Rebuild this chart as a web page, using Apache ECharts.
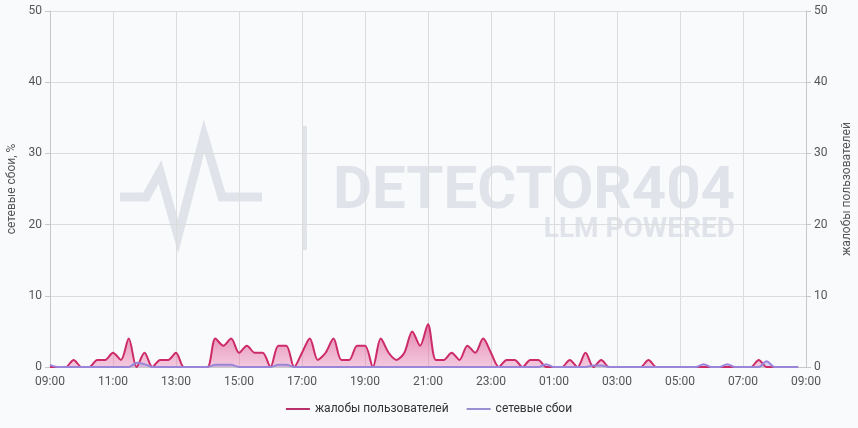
<!DOCTYPE html>
<html>
<head>
<meta charset="utf-8">
<script src="https://cdn.jsdelivr.net/npm/echarts@6/dist/echarts.min.js"></script>
<style>
html,body{margin:0;padding:0;background:#f9fafc;}
#chart{width:858px;height:428px;}
</style>
</head>
<body>
<div id="chart"></div>
<script>
// 15-minute slots starting 09:00
const times = [
 '09:00','09:15','09:30','09:45','10:00','10:15','10:30','10:45',
 '11:00','11:15','11:30','11:45','12:00','12:15','12:30','12:45',
 '13:00','13:15','13:30','13:45','14:00','14:15','14:30','14:45',
 '15:00','15:15','15:30','15:45','16:00','16:15','16:30','16:45',
 '17:00','17:15','17:30','17:45','18:00','18:15','18:30','18:45',
 '19:00','19:15','19:30','19:45','20:00','20:15','20:30','20:45',
 '21:00','21:15','21:30','21:45','22:00','22:15','22:30','22:45',
 '23:00','23:15','23:30','23:45','00:00','00:15','00:30','00:45',
 '01:00','01:15','01:30','01:45','02:00','02:15','02:30','02:45',
 '03:00','03:15','03:30','03:45','04:00','04:15','04:30','04:45',
 '05:00','05:15','05:30','05:45','06:00','06:15','06:30','06:45',
 '07:00','07:15','07:30','07:45','08:00','08:15','08:30','08:45'
];
const complaints = [
 0,0,0,1,0,0,1,1,
 2,1,4,0,2,0,1,1,
 2,0,0,0,0,4,3,4,
 2,3,2,2,0,3,3,0,
 2,4,1,2,4,1,1,3,
 3,0,4,2,1,2,5,3,
 6,1,1,2,1,3,2,4,
 2,0,1,1,0,1,1,0,
 0,0,1,0,2,0,1,0,
 0,0,0,0,1,0,0,0,
 0,0,0,0,0,0,0,0,
 0,0,1,0,0,0,0,0
];
const networkFailures = [
 0.3,0,0,0,0,0,0,0,
 0,0,0,0.6,0.4,0,0,0,
 0,0,0,0,0,0.3,0.3,0.3,
 0,0,0,0,0,0.3,0.3,0,
 0,0,0,0,0,0,0,0,
 0,0,0,0,0,0,0,0,
 0,0,0,0,0,0,0,0,
 0,0,0,0,0,0,0,0.4,
 0,0,0,0,0,0.2,0.2,0,
 0,0,0,0,0,0,0,0,
 0,0,0,0.4,0,0,0.4,0,
 0,0,0,0.8,0,0,0,0
];
const xTickStep = 120; // minutes
const yMax = 50, yStep = 10;

function toMin(t){
  let [h, m] = t.split(':').map(Number);
  let v = h*60 + m - 9*60;
  if (v < 0) v += 1440;
  return v;
}
function fmt(m){
  const total = (9*60 + m) % 1440;
  const h = Math.floor(total/60), mm = total % 60;
  return String(h).padStart(2,'0') + ':' + String(mm).padStart(2,'0');
}
const pinkData = times.map((t,i)=>[toMin(t), complaints[i]]);
const purpleData = times.map((t,i)=>[toMin(t), networkFailures[i]]);

const chart = echarts.init(document.getElementById('chart'), null, {renderer:'canvas'});
const wm = '#e0e3e9';
chart.setOption({
  backgroundColor:'#f9fafc',
  animation:false,
  textStyle:{fontFamily:'Roboto, "Noto Sans", sans-serif'},
  graphic:[
    {type:'polyline', z:-10, silent:true,
     shape:{points:[[120,197],[146,197],[160,172],[178,236],[204,136],[222,197],[262,197]]},
     style:{stroke:wm, lineWidth:9, fill:null, lineJoin:'miter'}},
    {type:'rect', z:-10, silent:true, shape:{x:302,y:126,width:5,height:124}, style:{fill:wm}},
    {type:'text', z:-10, silent:true, right:123, top:163,
     style:{text:'DETECTOR404', fill:wm, font:'bold 60px Roboto, sans-serif'}},
    {type:'text', z:-10, silent:true, right:123, top:216,
     style:{text:'LLM POWERED', fill:wm, font:'bold 28px Roboto, sans-serif'}}
  ],
  grid:{left:50, right:52, top:11, bottom:61, outerBoundsMode:'none', containLabel:false},
  legend:{
    bottom:8, left:'center', itemWidth:24, itemHeight:8, itemGap:18,
    icon:'path://M0,3 L24,3 L24,5 L0,5 Z',
    textStyle:{color:'#333', fontSize:12},
    data:[
      {name:'жалобы пользователей', itemStyle:{color:'#b8306a'}},
      {name:'сетевые сбои', itemStyle:{color:'#9a8fd0'}}
    ]
  },
  xAxis:{
    type:'value', min:0, max:1440, interval:xTickStep,
    axisLine:{show:true, lineStyle:{color:'#c8c8c8'}},
    axisTick:{show:false},
    axisLabel:{color:'#555', fontSize:12, margin:9, formatter:v=>fmt(v)},
    splitLine:{show:true, lineStyle:{color:'#dcdcdc'}}
  },
  yAxis:[
    {type:'value', min:0, max:yMax, interval:yStep, position:'left',
     name:'сетевые сбои, %', nameLocation:'middle', nameGap:31,
     nameTextStyle:{color:'#555', fontSize:12},
     axisLine:{show:true, lineStyle:{color:'#c8c8c8'}},
     axisTick:{show:true, length:5, lineStyle:{color:'#c8c8c8'}},
     axisLabel:{color:'#555', fontSize:12, margin:8},
     splitLine:{show:true, lineStyle:{color:'#dcdcdc'}}},
    {type:'value', min:0, max:yMax, interval:yStep, position:'right',
     name:'жалобы пользователей', nameLocation:'middle', nameGap:35,
     nameTextStyle:{color:'#555', fontSize:12},
     axisLine:{show:true, lineStyle:{color:'#c8c8c8'}},
     axisTick:{show:true, length:5, lineStyle:{color:'#c8c8c8'}},
     axisLabel:{color:'#555', fontSize:12, margin:8},
     splitLine:{show:false}}
  ],
  series:[
    {name:'жалобы пользователей', type:'line', yAxisIndex:1, smooth:0.3,
     data:pinkData, showSymbol:false, symbol:'none',
     lineStyle:{color:'#cc2a68', width:2},
     itemStyle:{color:'#cc2a68'},
     areaStyle:{color:new echarts.graphic.LinearGradient(0,0,0,1,[
       {offset:0,color:'rgba(214,45,110,0.85)'},
       {offset:1,color:'rgba(230,110,165,0.5)'}])}},
    {name:'сетевые сбои', type:'line', yAxisIndex:0, smooth:0.3,
     data:purpleData, showSymbol:false, symbol:'none',
     lineStyle:{color:'#9a86d8', width:2},
     itemStyle:{color:'#9a86d8'},
     areaStyle:{color:'rgba(160,140,220,0.5)'}}
  ]
});
</script>
</body>
</html>
